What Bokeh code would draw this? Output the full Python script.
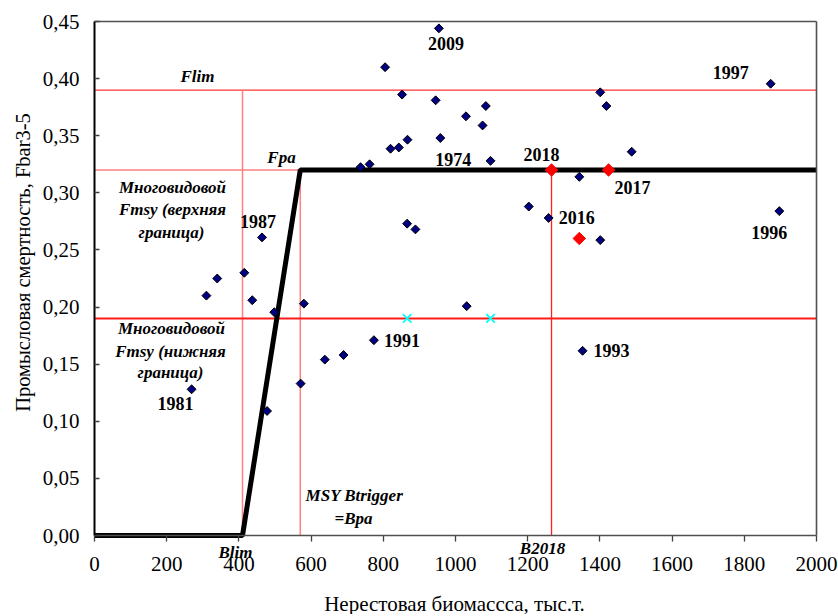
import numpy as np
from bokeh.plotting import figure
from bokeh.models import ColumnDataSource, Label, FixedTicker, LinearAxis, Range1d
from bokeh.core.properties import value
from bokeh.embed import file_html
from bokeh.resources import INLINE

# ---------------- data ----------------
ssb = [269, 310, 340, 415, 437, 464, 478, 498, 571, 580, 638, 690, 737, 762,
       774, 805, 820, 843, 852, 866, 867, 889, 945, 954, 958, 1029, 1031, 1075,
       1084, 1097, 1203, 1258, 1343, 1352, 1401, 1401, 1418, 1488, 1873, 1897]
fbar = [0.128, 0.210, 0.225, 0.230, 0.206, 0.261, 0.109, 0.1955, 0.133, 0.203,
        0.154, 0.158, 0.3225, 0.325, 0.171, 0.410, 0.3386, 0.3397, 0.386, 0.273,
        0.3465, 0.268, 0.381, 0.444, 0.348, 0.367, 0.2008, 0.359, 0.376, 0.328,
        0.288, 0.278, 0.314, 0.1617, 0.388, 0.2586, 0.376, 0.336, 0.3955, 0.284]
years = ["1981", "", "", "", "", "1987", "", "", "", "", "", "", "", "",
         "1991", "", "", "", "", "", "", "", "", "2009", "1974", "", "", "",
         "", "", "", "2016", "", "1993", "", "", "", "", "1997", "1996"]

red_ssb = [1266, 1424, 1343]
red_fbar = [0.32, 0.32, 0.26]
red_years = ["2018", "2017", ""]

cyan_ssb = [866, 1097]
cyan_fbar = [0.19, 0.19]

Blim = 410
Bpa = 570
B2018 = 1266
Flim = 0.39
Fpa = 0.32
Fmsy_low = 0.19
Bmax = 2000
Fmax = 0.45

x_ticks = [0, 200, 400, 600, 800, 1000, 1200, 1400, 1600, 1800, 2000]
x_tick_labels = ["0", "200", "400", "600", "800", "1000", "1200", "1400", "1600", "1800", "2000"]
y_ticks = [0.0, 0.05, 0.10, 0.15, 0.20, 0.25, 0.30, 0.35, 0.40, 0.45]
y_tick_labels = ["0,00", "0,05", "0,10", "0,15", "0,20", "0,25", "0,30", "0,35", "0,40", "0,45"]

# ---------------- layout / styling ----------------
W, H = 838, 614
AX_L, AX_R, AX_T, AX_B = 94, 816, 21, 535      # plot box in page pixels
kx = (AX_R - AX_L) / Bmax
ky = (AX_B - AX_T) / Fmax

label_offsets = {"1981": (-16, 14), "1987": (-4, -16), "2009": (7, 15), "1974": (13, 21),
                 "2016": (28, 0), "1991": (28, 0), "1993": (29, 0), "1997": (-40, -11),
                 "1996": (-10, 21), "2018": (-10, -15), "2017": (24, 18)}

FONT = "Liberation Serif, Times New Roman, DejaVu Serif, serif"
GREY = "#505050"

p = figure(width=W, height=H,
           x_range=Range1d(-AX_L / kx, (W - AX_L) / kx),
           y_range=Range1d(-(H - AX_B) / ky, AX_B / ky),
           output_backend="svg", toolbar_location=None,
           min_border_left=0, min_border_right=0, min_border_top=0, min_border_bottom=0)
p.xgrid.visible = False
p.ygrid.visible = False
p.outline_line_color = None
p.background_fill_color = "white"
p.border_fill_color = "white"

xa = p.xaxis[0]
ya = p.yaxis[0]
xa.fixed_location = 0
xa.bounds = (0, Bmax)
ya.fixed_location = 0
ya.bounds = (0, Fmax)
xa.ticker = FixedTicker(ticks=x_ticks)
xa.major_label_overrides = {t: l for t, l in zip(x_ticks, x_tick_labels)}
ya.ticker = FixedTicker(ticks=y_ticks)
ya.major_label_overrides = {t: l for t, l in zip(y_ticks, y_tick_labels)}
for ax in (xa, ya):
    ax.major_label_text_font = FONT
    ax.major_label_text_font_size = "21px"
    ax.major_label_text_color = "black"
    ax.minor_tick_line_color = None
    ax.major_tick_line_color = "#404040"
    ax.major_tick_line_width = 1.3
xa.major_tick_in = 0
xa.major_tick_out = 6
xa.major_label_standoff = 15
xa.axis_line_color = GREY
xa.axis_line_width = 1.5
ya.major_tick_in = 5
ya.major_tick_out = 0
ya.major_label_standoff = 15
ya.axis_line_color = "black"
ya.axis_line_width = 2

# frame border (top and right)
top = LinearAxis(fixed_location=Fmax, bounds=(0, Bmax), ticker=FixedTicker(ticks=[]),
                 axis_line_color=GREY, axis_line_width=1.3, major_tick_line_color=None,
                 minor_tick_line_color=None, major_label_text_color=None)
right = LinearAxis(fixed_location=Bmax, bounds=(0, Fmax), ticker=FixedTicker(ticks=[]),
                   axis_line_color=GREY, axis_line_width=1.6, major_tick_line_color=None,
                   minor_tick_line_color=None, major_label_text_color=None)
p.add_layout(top, "above")
p.add_layout(right, "right")

# reference lines
p.line([0, Bmax], [Flim, Flim], line_color="#FF3333", line_width=1.2)
p.line([Blim, Blim], [0, Flim], line_color="#FF8080", line_width=1.5)
p.line([0, Bpa], [Fpa, Fpa], line_color="#FF8080", line_width=1.5)
p.line([Bpa, Bpa], [0, Fpa], line_color="#FF8080", line_width=1.5)
p.line([0, Bmax], [Fmsy_low, Fmsy_low], line_color="#FF1A1A", line_width=2)
p.line([B2018, B2018], [0, Fpa], line_color="#FF2020", line_width=1.3)

# harvest control rule
p.line([0, Blim, Bpa, Bmax], [0, 0, Fpa, Fpa], line_color="black", line_width=5)

# points
src = ColumnDataSource(dict(x=ssb, y=fbar, t=years,
                            xo=[label_offsets.get(y, (0, 0))[0] for y in years],
                            yo=[label_offsets.get(y, (0, 0))[1] for y in years]))
p.scatter("x", "y", source=src, marker="square", angle=np.pi / 4, size=6.3,
          fill_color="#000080", line_color="black", line_width=1)
rsrc = ColumnDataSource(dict(x=red_ssb, y=red_fbar, t=red_years,
                             xo=[label_offsets.get(y, (0, 0))[0] for y in red_years],
                             yo=[label_offsets.get(y, (0, 0))[1] for y in red_years]))
p.scatter("x", "y", source=rsrc, marker="square", angle=np.pi / 4, size=8.8,
          fill_color="#FF0000", line_color="#FF0000", line_width=1)
p.scatter(cyan_ssb, cyan_fbar, marker="x", size=12, line_color="#00FFFF", line_width=1.8)

for s in (src, rsrc):
    p.text("x", "y", text="t", source=s, x_offset="xo", y_offset="yo",
           text_font=value(FONT), text_font_style="bold", text_font_size="18px",
           text_align="center", text_baseline="middle", text_color="black")

# annotations: positions given in page pixels (x right, y down)
def lab(text, px, py, style="bold italic", size="17px", angle=0.0):
    p.add_layout(Label(x=px, y=H - py, x_units="screen", y_units="screen", text=text,
                       text_font=FONT, text_font_style=style, text_font_size=size,
                       text_align="center", text_baseline="middle", angle=angle,
                       text_color="black"))

lab("Flim", 197, 76)
lab("Fpa", 281, 157)
lab("Многовидовой", 172, 187)
lab("Fmsy (верхняя", 172, 209)
lab("граница)", 171, 232)
lab("Многовидовой", 171, 328)
lab("Fmsy (нижняя", 170, 351)
lab("граница)", 170, 372)
lab("MSY Btrigger", 354, 495)
lab("=Bpa", 353, 518)
lab("Blim", 235, 552)
lab("B2018", 542, 548)

lab("Нерестовая биомассса, тыс.т.", 454, 603, style="normal", size="21px")
lab("Промысловая смертность, Fbar3-5", 22, 262, style="normal", size="20.5px", angle=np.pi / 2)

open("out.html", "w").write(file_html(p, INLINE))
